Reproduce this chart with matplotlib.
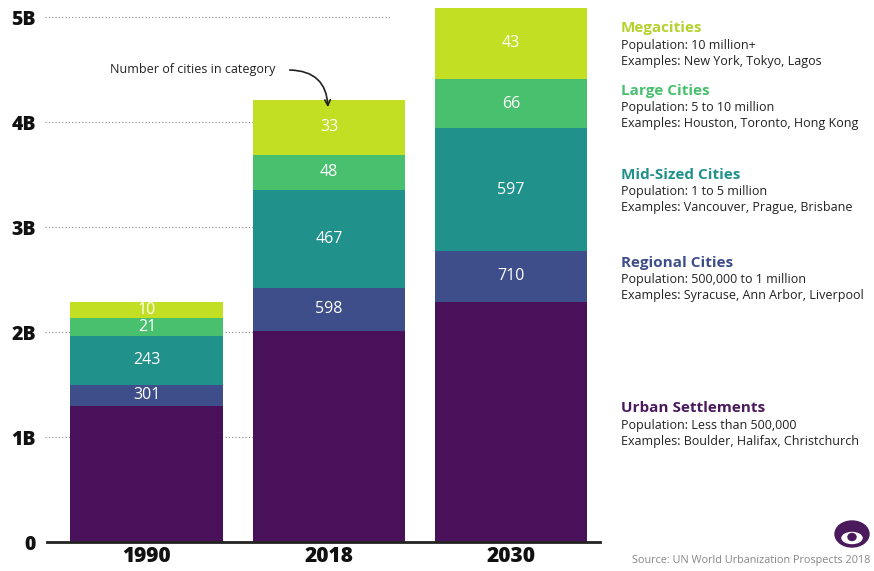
import matplotlib
matplotlib.use("Agg")
import matplotlib.pyplot as plt
from matplotlib.patches import Ellipse
import numpy as np

W, H = 874, 571
years = ["1990", "2018", "2030"]
categories = ["Urban Settlements", "Regional Cities", "Mid-Sized Cities", "Large Cities", "Megacities"]
# population in billions per category (bottom to top)
urban = [1.30, 2.01, 2.29]
regional = [0.20, 0.41, 0.48]
midsized = [0.46, 0.93, 1.17]
large = [0.17, 0.34, 0.47]
mega = [0.16, 0.52, 0.68]
# number of cities per category
n_regional = [301, 598, 710]
n_mid = [243, 467, 597]
n_large = [21, 48, 66]
n_mega = [10, 33, 43]
ytick_vals = [0, 1, 2, 3, 4, 5]
ytick_labels = ["0", "1B", "2B", "3B", "4B", "5B"]

colors = ["#481159", "#3e4e8a", "#21918c", "#48c06e", "#c2df23"]
title_colors = ["#4a1a5c", "#3e4e8a", "#21918c", "#48c06e", "#b5d22c"]

plt.rcParams['font.family'] = ['Open Sans', 'DejaVu Sans']
fig = plt.figure(figsize=(W/100, H/100), dpi=100)

def fx(x): return x / W
def fy(y): return 1 - y / H

ax = fig.add_axes([fx(47), fy(542), (600-47)/W, 542/H])
ax.set_ylim(0, 542/105)
ax.set_xlim(-0.549, 2.489)
x = np.arange(len(years))
series = [urban, regional, midsized, large, mega]
counts = [None, n_regional, n_mid, n_large, n_mega]
bottom = np.zeros(len(years))
for vals, col, cnt in zip(series, colors, counts):
    vals = np.array(vals)
    ax.bar(x, vals, width=0.84, bottom=bottom, color=col, zorder=3, linewidth=0)
    if cnt is not None:
        for xi, b, v, c in zip(x, bottom, vals, cnt):
            ax.text(xi, b + v/2, str(c), color="white", ha="center", va="center",
                    fontsize=11.5, zorder=4)
    bottom += vals

# dotted gridlines
for v in ytick_vals[1:]:
    ax.plot([-0.56, 1.335], [v, v], linestyle=(0, (1, 2)), color="#888888", lw=0.8,
            zorder=1, clip_on=False)
ax.plot([-0.549, 2.489], [0, 0], color="#222222", lw=2, zorder=5, clip_on=False)

for s in ax.spines.values():
    s.set_visible(False)
ax.set_yticks(ytick_vals)
ax.set_yticklabels(ytick_labels, fontsize=14, fontweight="heavy", color="#111111")
ax.tick_params(axis="y", length=0, pad=8)
ax.set_xticks(x)
ax.set_xticklabels(years, fontsize=15, fontweight="heavy", color="#111111")
ax.tick_params(axis="x", length=0, pad=3)
ax.patch.set_alpha(0)

# annotation
fig.text(fx(110), fy(69), "Number of cities in category", fontsize=9, color="#222222",
         ha="left", va="center")
ax.annotate("", xy=(fx(328), fy(110)), xycoords="figure fraction",
            xytext=(fx(287), fy(70)), textcoords="figure fraction",
            arrowprops=dict(arrowstyle="->", color="#222222", lw=1.2,
                            connectionstyle="arc3,rad=-0.5"), annotation_clip=False)

# legend text
legend = [
    ("Megacities", "Population: 10 million+", "Examples: New York, Tokyo, Lagos", 28, title_colors[4]),
    ("Large Cities", "Population: 5 to 10 million", "Examples: Houston, Toronto, Hong Kong", 91, title_colors[3]),
    ("Mid-Sized Cities", "Population: 1 to 5 million", "Examples: Vancouver, Prague, Brisbane", 175, title_colors[2]),
    ("Regional Cities", "Population: 500,000 to 1 million", "Examples: Syracuse, Ann Arbor, Liverpool", 263, title_colors[1]),
    ("Urban Settlements", "Population: Less than 500,000", "Examples: Boulder, Halifax, Christchurch", 408, title_colors[0]),
]
for title, l1, l2, y, c in legend:
    fig.text(fx(621), fy(y), title, fontsize=11, fontweight="bold", color=c, va="center")
    fig.text(fx(621), fy(y + 17), l1, fontsize=9, color="#222222", va="center")
    fig.text(fx(621), fy(y + 33), l2, fontsize=9, color="#222222", va="center")

fig.text(fx(870), fy(561), "Source: UN World Urbanization Prospects 2018", fontsize=7.8,
         color="#888888", ha="right", va="center")

# logo
lax = fig.add_axes([fx(834), fy(549), 36/W, 30/H])
lax.set_xlim(0, 36); lax.set_ylim(0, 30); lax.axis("off")
lax.add_patch(Ellipse((18, 15), 34, 26, color="#4a1a5c"))
lax.add_patch(Ellipse((18, 11), 20, 11, color="white"))
lax.add_patch(Ellipse((18, 12), 8, 7, color="#4a1a5c"))

fig.savefig("out.png", dpi=100)
